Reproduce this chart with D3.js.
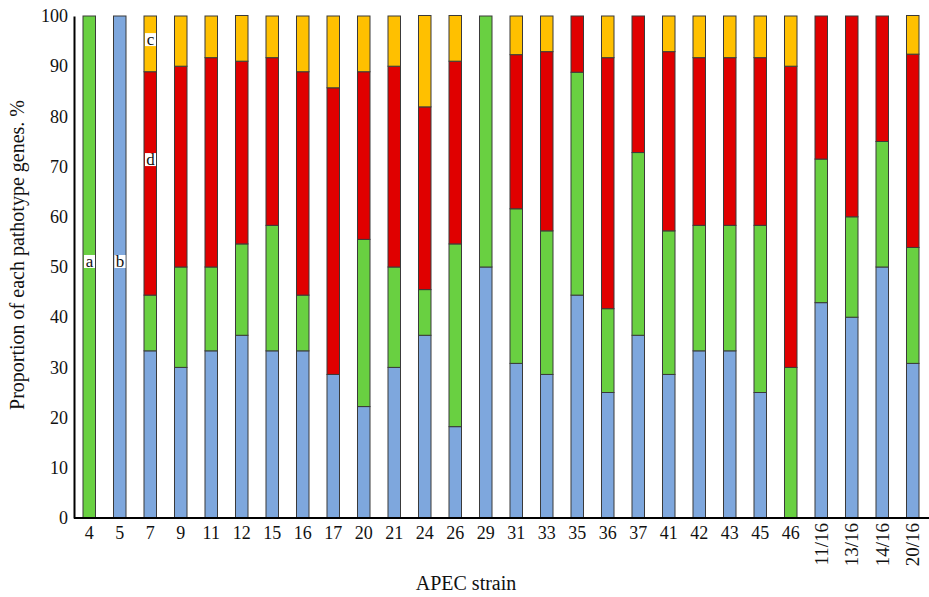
<!DOCTYPE html>
<html>
<head>
<meta charset="utf-8">
<script src="https://cdn.jsdelivr.net/npm/d3@7"></script>
<style>
  body { margin: 0; background: #fff; }
  text { font-family: "Liberation Serif", "DejaVu Serif", serif; fill: #111; }
</style>
</head>
<body>
<svg id="chart" width="929" height="597"></svg>
<script>
// strain labels along the x axis
var strains = ["4","5","7","9","11","12","15","16","17","20","21","24","26","29","31","33","35","36","37","41","42","43","45","46","11/16","13/16","14/16","20/16"];
// percentage of each pathotype gene group, bottom to top
var blueVals   = [0,100,33.3,30,33.3,36.4,33.3,33.3,28.6,22.2,30,36.4,18.2,50,30.8,28.6,44.4,25,36.4,28.6,33.3,33.3,25,0,42.9,40,50,30.8];
var greenVals  = [100,0,11.1,20,16.7,18.2,25,11.1,0,33.3,20,9.1,36.4,50,30.8,28.6,44.4,16.7,36.4,28.6,25,25,33.3,30,28.6,20,25,23.1];
var redVals    = [0,0,44.5,40,41.7,36.4,33.4,44.5,57.1,33.4,40,36.4,36.4,0,30.7,35.7,11.2,50,27.2,35.7,33.4,33.4,33.4,60,28.5,40,25,38.5];
var yellowVals = [0,0,11.1,10,8.3,9.1,8.3,11.1,14.3,11.1,10,18.2,9.1,0,7.7,7.1,0,8.3,0,7.1,8.3,8.3,8.3,10,0,0,0,7.7];
var yTicks = [0,10,20,30,40,50,60,70,80,90,100];
// letter tags drawn on the first bars
var tags = [{strain:"4",v:51,t:"a"},{strain:"5",v:51,t:"b"},{strain:"7",v:95.2,t:"c"},{strain:"7",v:71.3,t:"d"}];

var keys = ["blue","green","red","yellow"];
var colors = {blue:"#7ea7dd", green:"#69d041", red:"#e00000", yellow:"#ffc000"};

var rows = strains.map(function(s,i){
  return {strain:s, blue:blueVals[i], green:greenVals[i], red:redVals[i], yellow:yellowVals[i]};
});

var svg = d3.select("#chart");
var mLeft = 74, mRight = 928, mTop = 16, mBottom = 518;

var x = d3.scaleBand().domain(strains).range([mLeft, mRight]).paddingInner(0.59).paddingOuter(0.295);
var y = d3.scaleLinear().domain([0,100]).range([mBottom, mTop]);

var series = d3.stack().keys(keys)(rows);

svg.append("g").selectAll("g").data(series).enter().append("g")
  .attr("fill", function(d){ return colors[d.key]; })
  .selectAll("rect").data(function(d){ return d.filter(function(p){ return p[1]-p[0] > 0; }); })
  .enter().append("rect")
  .attr("x", function(d){ return x(d.data.strain); })
  .attr("width", x.bandwidth())
  .attr("y", function(d){ return y(d[1]); })
  .attr("height", function(d){ return y(d[0]) - y(d[1]); })
  .attr("stroke", "#3a3a3a")
  .attr("stroke-width", 1);

// axes
var yAxis = svg.append("g").attr("transform","translate("+mLeft+",0)")
  .call(d3.axisLeft(y).tickValues(yTicks).tickSize(0).tickPadding(6));
yAxis.select(".domain").attr("stroke","#000").attr("stroke-width",2);
yAxis.selectAll("text").attr("font-size",18).style("font-family","Liberation Serif");

var xAxis = svg.append("g").attr("transform","translate(0,"+mBottom+")")
  .call(d3.axisBottom(x).tickSize(0).tickPadding(8));
xAxis.select(".domain").attr("d","M"+mLeft+",0H929").attr("stroke","#000").attr("stroke-width",2);
xAxis.selectAll("text").attr("font-size",18).style("font-family","Liberation Serif")
  .each(function(d){
    if (d.indexOf("/") >= 0) {
      d3.select(this).attr("transform","rotate(-90)").attr("text-anchor","end")
        .attr("font-size",19)
        .attr("x",-5).attr("y",0).attr("dy","0.35em");
    }
  });

// tags
var tg = svg.append("g").selectAll("g").data(tags).enter().append("g");
tg.append("rect")
  .attr("x", function(d){ return x(d.strain) + 1; })
  .attr("y", function(d){ return y(d.v) - 7; })
  .attr("width", 11).attr("height", 13)
  .attr("fill", "#fff");
tg.append("text")
  .attr("x", function(d){ return x(d.strain) + 6.5; })
  .attr("y", function(d){ return y(d.v) + 5; })
  .attr("text-anchor","middle")
  .attr("font-size",17)
  .text(function(d){ return d.t; });

// titles
svg.append("text").attr("x",466).attr("y",590).attr("text-anchor","middle")
  .attr("font-size",20).text("APEC strain");
svg.append("text").attr("transform","translate(24,255) rotate(-90)").attr("text-anchor","middle")
  .attr("font-size",20).text("Proportion of each pathotype genes. %");
</script>
</body>
</html>
